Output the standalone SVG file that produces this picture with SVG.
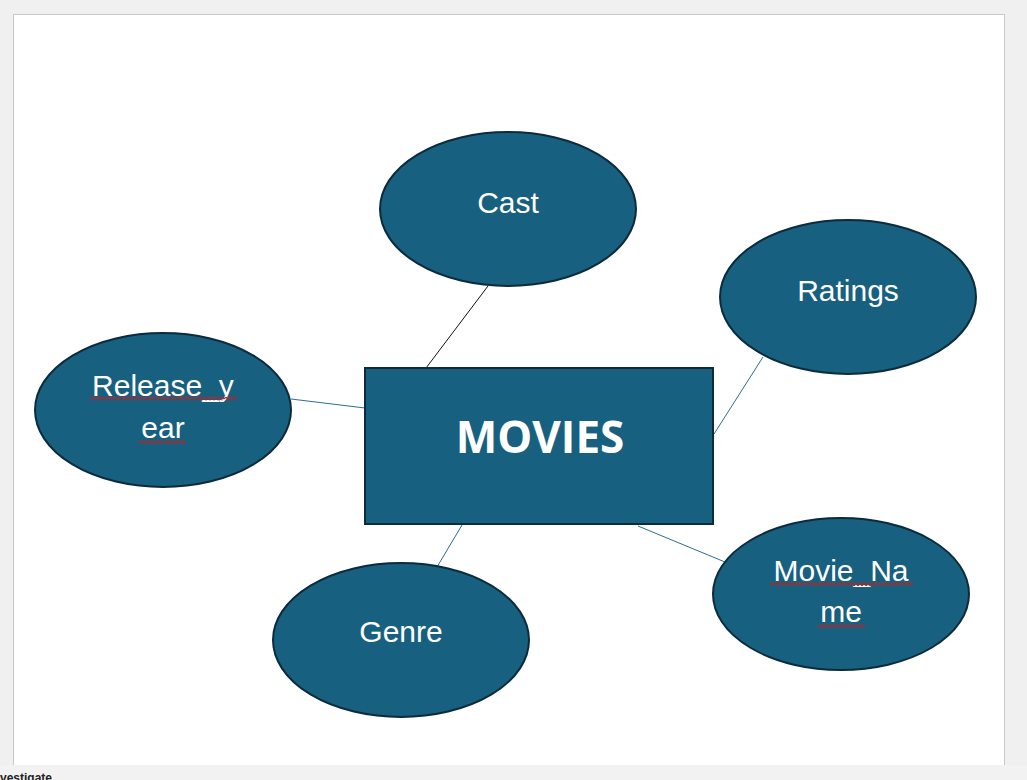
<svg xmlns="http://www.w3.org/2000/svg" width="1027" height="780" viewBox="0 0 1027 780">
<defs>
<style>
.ent{fill:#17607f;stroke:#0c2b3c;stroke-width:2}
.lbl{fill:#ffffff;font-family:"Liberation Sans",Arial,sans-serif;font-size:30px;text-anchor:middle}
.title{fill:#ffffff;font-family:"Open Sans","Liberation Sans",sans-serif;font-size:44px;font-weight:bold;text-anchor:middle}
</style>
<pattern id="wave" width="4" height="4" patternUnits="userSpaceOnUse"><path d="M0,3 L2,1 L4,3" fill="none" stroke="#cc1a1a" stroke-width="1.2"/></pattern>
</defs>
<rect x="0" y="0" width="1027" height="780" fill="#f0f0f0"/>
<rect x="13.5" y="14.5" width="991" height="751" fill="#ffffff" stroke="#c8c8c8" stroke-width="1"/>
<rect x="0" y="765" width="1027" height="15" fill="#f2f2f2"/>
<text x="0" y="782" font-family="Liberation Sans,sans-serif" font-size="12" font-weight="bold" fill="#222">vestigate</text>
<g id="connectors" stroke-width="1">
<line x1="488" y1="286" x2="423" y2="372" stroke="#111111"/>
<line x1="291" y1="399" x2="365" y2="408" stroke="#2a6f8c"/>
<line x1="763" y1="357" x2="714" y2="434" stroke="#2a6f8c"/>
<line x1="462" y1="525" x2="437" y2="567" stroke="#2a6f8c"/>
<line x1="638" y1="526" x2="725" y2="562" stroke="#2a6f8c"/>
</g>
<g id="movies">
<rect class="ent" x="365" y="368" width="348" height="156"/>
<text class="title" x="540" y="453">MOVIES</text>
</g>
<g id="cast">
<ellipse class="ent" cx="508" cy="209" rx="128" ry="77"/>
<text class="lbl" x="508" y="213">Cast</text>
</g>
<g id="ratings">
<ellipse class="ent" cx="848" cy="297" rx="128" ry="77"/>
<text class="lbl" x="848" y="301">Ratings</text>
</g>
<g id="release_year">
<ellipse class="ent" cx="163" cy="410" rx="128" ry="77"/>
<text class="lbl" x="163" y="396">Release_y</text>
<text class="lbl" x="163" y="438">ear</text>
<rect x="90" y="397" width="147" height="4" fill="url(#wave)"/>
<rect x="139" y="440" width="47" height="4" fill="url(#wave)"/>
</g>
<g id="genre">
<ellipse class="ent" cx="401" cy="640" rx="128" ry="77"/>
<text class="lbl" x="401" y="642">Genre</text>
</g>
<g id="movie_name">
<ellipse class="ent" cx="841" cy="594" rx="128" ry="76"/>
<text class="lbl" x="841" y="581">Movie_Na</text>
<text class="lbl" x="841" y="622">me</text>
<rect x="770" y="582" width="143" height="4" fill="url(#wave)"/>
<rect x="818" y="624" width="47" height="4" fill="url(#wave)"/>
</g>
</svg>
